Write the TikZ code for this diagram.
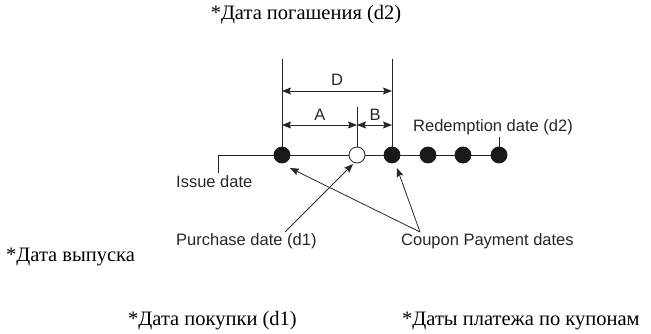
\documentclass[tikz,border=0pt]{standalone}
\usepackage{fontspec}
\setmainfont{Liberation Serif}
\newfontfamily\lsans{Liberation Sans}
\usetikzlibrary{arrows.meta}
\begin{document}
\begin{tikzpicture}[x=1pt,y=-1pt,
  ln/.style={line width=0.8pt,black!85},
  dim/.style={ln,{Stealth[length=9pt,width=7pt,inset=1.5pt]}-{Stealth[length=9pt,width=7pt,inset=1.5pt]}},
  ptr/.style={ln,-{Stealth[length=9pt,width=7pt,inset=1.5pt]}},
  fdot/.style={circle,fill=black!90,draw=black!90,line width=0.8pt,minimum size=16pt,inner sep=0pt},
  odot/.style={circle,fill=white,draw=black!85,line width=0.8pt,minimum size=16pt,inner sep=0pt},
  en/.style={font=\lsans\fontsize{16.5}{18}\selectfont,inner sep=0pt,anchor=west,text=black!85},
  ru/.style={font=\fontsize{20.5}{22}\selectfont,inner sep=0pt,anchor=west}]
\useasboundingbox (0,0) rectangle (651,334);
% Russian labels
\node[ru,anchor=center] (rtop) at (306,15) {*Дата погашения (d2)};
\node[ru] (rissue) at (6,257) {*Дата выпуска};
\node[ru] (rpurch) at (128,321) {*Дата покупки (d1)};
\node[ru] (rcoup) at (402,321) {*Даты платежа по купонам};
% timeline points
\coordinate (is) at (218,155);
\coordinate (isb) at (218,173);
\node[fdot] (p1) at (282,155) {};
\node[odot] (p2) at (357,155) {};
\node[fdot] (p3) at (392,155) {};
\node[fdot] (p4) at (428,155) {};
\node[fdot] (p5) at (463,155) {};
\node[fdot] (p6) at (499,155) {};
\draw[ln] (isb) -- (is) -- (p1);
\draw[ln] (p1) -- (p2) -- (p3) -- (p4) -- (p5) -- (p6);
% extension lines
\coordinate (t1) at (282,59);
\coordinate (t3) at (392,59);
\coordinate (t2) at (357,107);
\draw[ln] (p1.north) -- (t1);
\draw[ln] (p3.north) -- (t3);
\draw[ln] (p2.north) -- (t2);
% dimensions
\coordinate (dl) at (282,91);
\coordinate (dr) at (392,91);
\coordinate (al) at (282,125);
\coordinate (am) at (357,125);
\coordinate (ar) at (392,125);
\draw[dim] (dl) -- (dr);
\draw[dim] (al) -- (am);
\draw[dim] (am) -- (ar);
\node[en,anchor=center] (lD) at (337,80) {D};
\node[en,anchor=center] (lA) at (320,115) {A};
\node[en,anchor=center] (lB) at (375,115) {B};
% English labels
\node[en] (red) at (413,127) {Redemption date (d2)};
\coordinate (redl) at (499,137);
\draw[ln] (p6.north) -- (redl);
\node[en] (iss) at (176,182) {Issue date};
\node[en] (pur) at (176,241) {Purchase date (d1)};
\node[en] (cpd) at (401,241) {Coupon Payment dates};
\coordinate (ps) at (285,232);
\coordinate (cs) at (420,232);
\coordinate (a1) at (290,168);
\coordinate (a2) at (353,164);
\coordinate (a3) at (397,168);
\draw[ptr] (ps) -- (a2);
\draw[ptr] (cs) -- (a1);
\draw[ptr] (cs) -- (a3);
\end{tikzpicture}
\end{document}
